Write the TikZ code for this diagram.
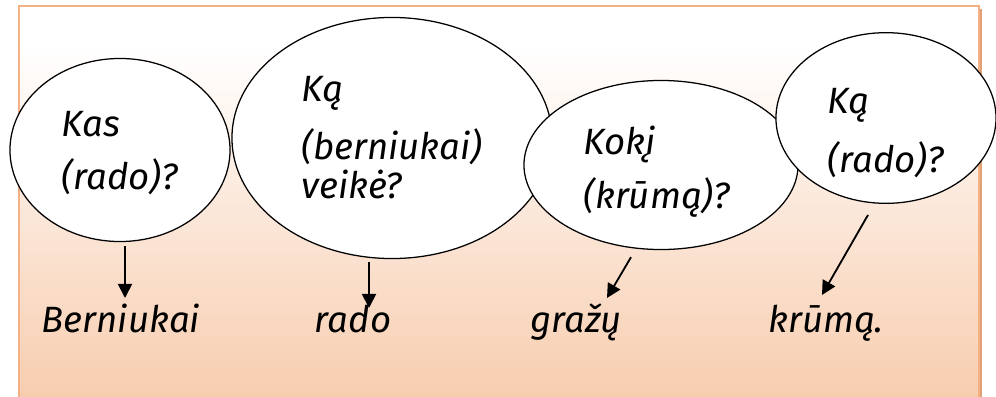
\documentclass[tikz,border=0pt]{standalone}
\usepackage{fontspec}
\setmainfont{Fira Sans}
\usetikzlibrary{shapes.geometric,arrows.meta}

\definecolor{peach}{RGB}{247,203,172}
\definecolor{frameorange}{RGB}{244,177,131}
\definecolor{frameshadow}{RGB}{226,160,118}
\pgfdeclareverticalshading{bgfade}{100bp}{color(0bp)=(peach); color(25bp)=(peach); color(70bp)=(white); color(100bp)=(white)}

\tikzset{
  bubble/.style={draw, ellipse, fill=white, line width=0.9pt, inner sep=0pt, align=left,
    font=\fontsize{26}{38}\selectfont\itshape},
  word/.style={anchor=base, inner sep=0pt, font=\fontsize{26}{38}\selectfont\itshape},
  arr/.style={-{Triangle[length=10pt,width=10pt]}, line width=1.3pt}
}

\begin{document}
\begin{tikzpicture}[x=0.025cm, y=-0.025cm]
    \useasboundingbox (0,0) rectangle (996,396);

    \shade[shading=bgfade] (19,6) rectangle (979,410);
    \draw[frameorange, line width=1.5pt] (19,6) rectangle (979,410);
    \draw[frameshadow, line width=1pt] (981,9) -- (981,410);

    \node[bubble, minimum width=5.5cm, minimum height=4.575cm] (kas) at (120,150) {\rule{0pt}{22pt}Kas\\(rado)?};
    \node[bubble, minimum width=8cm, minimum height=6.025cm] (kaveike) at (392,138) {Ką\\[3pt](berniukai)\\[-10pt]veikė?};
    \node[bubble, minimum width=6.85cm, minimum height=4.225cm] (koki) at (661,165) {\rule{0pt}{30pt}\hspace*{-6pt}Kokį\\\hspace*{-6pt}(krūmą)?};
    \node[bubble, minimum width=5.5cm, minimum height=3.8cm] (karado) at (886,118) {\rule{0pt}{40pt}Ką\\[4pt](rado)?};

    \node[word] (berniukai) at (121,332) {Berniukai};
    \node[word] (rado) at (353,332) {rado};
    \node[word] (grazu) at (576,332) {gražų};
    \node[word] (krumq) at (826,332) {krūmą.};

    \draw[arr] ([shift={(5,4)}]kas.south) -- ([shift={(4,-34)}]berniukai.base);
    \draw[arr] ([shift={(-23,3)}]kaveike.south) -- ([shift={(16,-24)}]rado.base);
    \draw[arr] ([shift={(-30,7)}]koki.south) -- ([shift={(31,-34)}]grazu.base);
    \draw[arr] ([shift={(-18,11)}]karado.south) -- ([shift={(-4,-37)}]krumq.base);
\end{tikzpicture}
\end{document}
